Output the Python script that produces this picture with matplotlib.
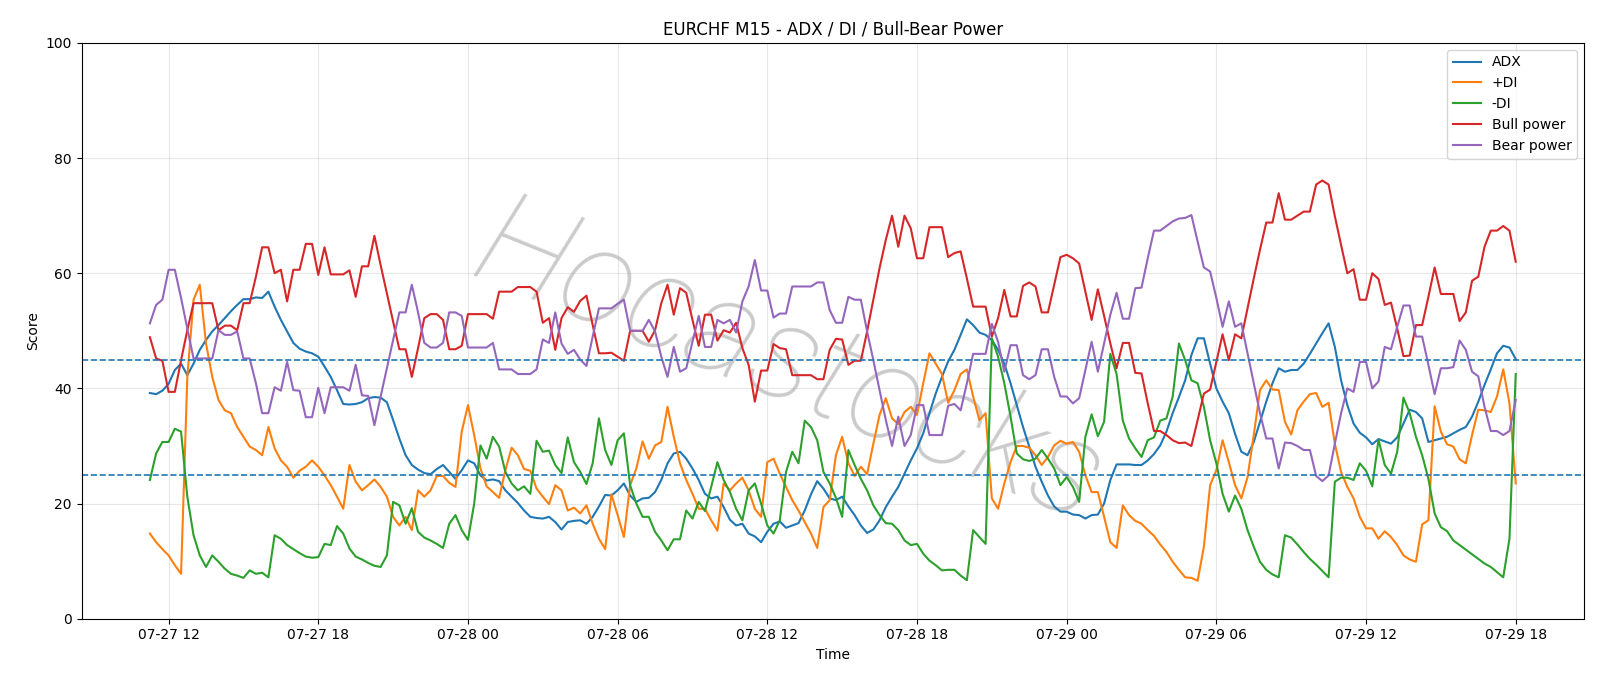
import numpy as np
import pandas as pd
import matplotlib
matplotlib.use("Agg")
import matplotlib.pyplot as plt
import matplotlib.dates as mdates

# 15-minute bars, 07-27 11:15 -> 07-29 18:00
times = pd.date_range("2025-07-27 11:15", periods=220, freq="15min")

adx = [39.2, 39.0, 39.6, 40.8, 43.2, 44.3, 42.3, 44.3, 46.7, 48.4, 49.9, 51.0, 52.2, 53.4, 54.5, 55.5, 55.5, 55.8,
       55.7, 56.8, 54.2, 51.9, 49.9, 47.9, 46.9, 46.4, 46.1, 45.5, 43.8, 42.0, 39.7, 37.3, 37.2, 37.3, 37.6, 38.3,
       38.5, 38.4, 37.6, 34.5, 31.3, 28.4, 26.7, 25.9, 25.3, 25.1, 26.0, 26.7, 25.5, 24.3, 25.8, 27.5, 27.0, 24.9, 24.0,
       24.2, 23.9, 22.3, 21.2, 20.1, 18.8, 17.7, 17.5, 17.4, 17.7, 16.8, 15.5, 16.8, 17.0, 17.1, 16.5, 17.7, 19.5, 21.5,
       21.4, 22.3, 23.5, 21.4, 20.3, 20.9, 21.0, 22.0, 24.1, 27.0, 28.7, 29.0, 27.8, 26.1, 24.1, 21.7, 20.9, 21.2,
       19.4, 17.2, 16.2, 16.5, 14.8, 14.3, 13.3, 15.1, 16.5, 16.9, 15.8, 16.2, 16.6, 18.8, 21.6, 23.9, 22.6, 20.9, 20.6,
       21.2, 19.5, 18.0, 16.2, 14.9, 15.5, 17.1, 19.4, 21.2, 22.9, 25.2, 27.5, 29.6, 32.2, 35.7, 39.1, 42.0, 44.7,
       46.7, 49.3, 52.0, 51.0, 49.7, 49.3, 48.4, 46.7, 44.3, 40.9, 37.1, 33.3, 29.9, 26.4, 23.8, 21.4, 19.5, 18.6,
       18.6, 18.1, 18.0, 17.4, 18.0, 18.1, 20.0, 24.1, 26.8, 26.8, 26.8, 26.7, 26.7, 27.5, 28.6, 30.1, 32.5, 35.7, 38.5,
       41.4, 45.8, 48.7, 48.7, 44.3, 40.0, 37.7, 35.7, 32.1, 29.0, 28.4, 30.7, 34.2, 37.7, 40.9, 43.5, 42.9, 43.2,
       43.2, 44.3, 46.0, 47.8, 49.6, 51.3, 47.2, 41.4, 37.1, 33.9, 32.3, 31.5, 30.3, 31.2, 30.8, 30.4, 31.5, 33.9, 36.3,
       35.9, 34.8, 30.7, 31.0, 31.3, 31.6, 32.2, 32.8, 33.3, 35.1, 37.7, 40.6, 43.3, 46.1, 47.4, 47.1, 45.1]

plus_di = [14.8, 13.3, 12.1, 11.0, 9.3, 7.8, 42.0, 55.4, 58.0, 47.8, 42.0, 38.0, 36.2, 35.7, 33.3, 31.6, 29.9, 29.3,
           28.4, 33.3, 29.6, 27.5, 26.4, 24.5, 25.7, 26.4, 27.5, 26.4, 24.9, 23.2, 21.2, 19.1, 26.7, 23.8, 22.3, 23.2,
           24.2, 22.9, 21.2, 17.7, 16.2, 17.7, 15.4, 22.3, 21.2, 22.3, 24.8, 24.8, 23.6, 22.9, 32.5, 37.1, 31.9, 26.1, 23.0,
           22.0, 21.0, 25.8, 29.7, 28.4, 26.0, 25.7, 22.6, 21.2, 19.9, 23.2, 22.3, 18.8, 19.3, 18.3, 19.7, 16.5, 13.9, 12.1,
           21.6, 18.0, 14.2, 23.2, 26.1, 30.8, 27.8, 30.1, 30.7, 36.8, 31.6, 27.0, 24.1, 21.7, 19.1, 19.1, 17.1, 15.3,
           23.5, 22.3, 23.5, 24.5, 22.3, 19.1, 17.7, 27.2, 27.8, 25.2, 22.9, 20.6, 18.8, 16.8, 14.8, 12.3, 19.4, 20.6, 28.4,
           31.6, 27.0, 24.8, 26.4, 25.1, 30.4, 35.4, 38.3, 34.8, 33.8, 35.9, 36.8, 35.4, 40.9, 46.1, 44.3, 42.5, 37.5,
           39.7, 42.5, 43.3, 38.6, 34.5, 35.7, 20.9, 19.1, 23.5, 27.2, 30.0, 30.0, 29.7, 28.4, 26.7, 28.1, 30.1, 30.9,
           30.4, 30.7, 29.0, 24.9, 22.0, 22.0, 17.7, 13.3, 12.3, 19.7, 18.0, 17.0, 16.5, 15.4, 14.4, 12.9, 11.6, 9.9, 8.5,
           7.2, 7.1, 6.6, 12.5, 23.2, 25.8, 31.0, 27.2, 23.2, 20.9, 24.6, 31.9, 39.7, 41.4, 39.8, 39.7, 34.2, 32.0,
           36.2, 37.7, 39.0, 39.2, 36.8, 37.5, 30.4, 25.5, 22.9, 20.9, 17.7, 15.7, 15.7, 13.9, 15.2, 14.2, 12.8, 11.0, 10.3,
           9.9, 16.4, 17.1, 36.9, 32.5, 30.3, 29.9, 27.7, 27.0, 31.9, 36.3, 36.2, 35.9, 38.6, 43.3, 37.4, 23.5]

minus_di = [24.1, 28.7, 30.7, 30.7, 33.0, 32.5, 21.2, 14.5, 11.0, 9.0, 11.0, 9.9, 8.7, 7.8, 7.5, 7.1, 8.4, 7.8,
            8.0, 7.2, 14.5, 13.9, 12.8, 12.1, 11.4, 10.8, 10.6, 10.7, 13.0, 12.8, 16.1, 14.8, 12.2, 10.8, 10.3, 9.7,
            9.2, 9.0, 11.0, 20.3, 19.7, 16.5, 19.2, 15.1, 14.1, 13.6, 13.0, 12.3, 16.5, 18.0, 15.4, 13.7, 20.0, 30.1, 27.8,
            31.6, 29.9, 25.5, 23.5, 22.3, 23.0, 21.7, 30.9, 29.0, 29.2, 26.7, 25.3, 31.5, 27.2, 25.5, 23.4, 27.0, 34.8, 29.3,
            26.7, 31.0, 32.2, 23.2, 20.0, 17.7, 17.7, 15.1, 13.6, 11.9, 13.8, 13.8, 18.8, 17.4, 20.3, 18.7, 22.9, 27.2,
            24.1, 22.0, 19.1, 17.1, 22.3, 23.5, 20.0, 16.2, 14.8, 17.1, 25.5, 29.0, 27.0, 34.4, 33.3, 31.0, 25.5, 23.5, 21.0,
            17.7, 29.3, 26.7, 24.3, 22.3, 19.7, 18.0, 16.6, 16.5, 15.4, 13.6, 12.8, 13.0, 11.3, 10.1, 9.3, 8.4, 8.5,
            8.5, 7.5, 6.7, 15.4, 14.2, 13.0, 48.7, 45.5, 40.9, 35.1, 28.7, 27.7, 27.4, 27.8, 29.3, 27.8, 26.1, 23.2,
            24.6, 22.9, 20.3, 31.6, 35.5, 31.7, 34.2, 46.0, 42.5, 34.4, 31.3, 29.6, 28.1, 31.0, 31.5, 34.4, 34.8, 38.6, 47.8,
            44.9, 41.4, 40.9, 36.8, 31.0, 27.0, 21.7, 18.6, 21.4, 19.1, 15.4, 12.5, 9.9, 8.5, 7.7, 7.2, 14.5, 14.1,
            12.9, 11.6, 10.4, 9.4, 8.3, 7.2, 23.8, 24.5, 24.5, 24.1, 27.0, 25.7, 23.0, 31.1, 26.7, 25.2, 29.0, 38.4, 35.7,
            31.6, 28.4, 24.3, 18.3, 15.9, 15.2, 13.6, 12.8, 12.0, 11.2, 10.4, 9.6, 9.0, 8.1, 7.2, 13.9, 42.5]

bull_power = [48.9, 45.2, 44.8, 39.4, 39.4, 44.9, 50.1, 54.8, 54.8, 54.8, 54.8, 50.1, 50.9, 50.9, 50.1, 54.8, 54.8, 59.4,
              64.5, 64.5, 60.0, 60.6, 55.1, 60.6, 60.6, 65.1, 65.1, 59.7, 64.5, 59.8, 59.8, 59.8, 60.5, 55.9, 61.2, 61.2,
              66.5, 61.4, 56.5, 51.6, 46.8, 46.8, 42.0, 47.0, 52.2, 52.9, 52.9, 51.9, 46.8, 46.8, 47.4, 52.9, 52.9, 52.9, 52.9,
              52.1, 56.8, 56.8, 56.8, 57.6, 57.6, 57.6, 56.8, 51.4, 52.2, 46.7, 52.2, 54.1, 53.3, 55.2, 56.1, 51.0, 46.1, 46.1,
              46.2, 45.5, 44.8, 50.0, 50.0, 50.0, 48.1, 50.1, 54.8, 58.0, 52.8, 57.4, 56.6, 51.9, 47.4, 52.8, 52.8, 48.3,
              50.1, 49.7, 51.4, 47.0, 44.1, 37.7, 43.1, 43.1, 47.7, 47.0, 46.8, 42.3, 42.3, 42.3, 42.3, 41.6, 41.6, 46.7, 48.6,
              48.5, 44.1, 44.8, 44.8, 49.9, 55.4, 60.9, 65.8, 70.0, 64.6, 70.0, 67.8, 62.6, 62.6, 68.0, 68.0, 68.0, 62.8,
              63.5, 63.8, 59.1, 54.2, 54.2, 54.2, 49.0, 52.2, 57.1, 52.5, 52.5, 57.8, 58.4, 57.7, 53.2, 53.2, 58.0, 62.8,
              63.2, 62.6, 61.7, 56.8, 51.9, 57.2, 52.6, 47.8, 43.5, 47.9, 47.9, 42.7, 42.6, 37.4, 32.6, 32.6, 31.9, 31.0, 30.5,
              30.6, 30.0, 34.5, 39.1, 39.8, 44.6, 49.4, 44.9, 49.4, 48.7, 53.9, 59.1, 64.1, 68.8, 68.8, 73.9, 69.3, 69.3,
              70.0, 70.7, 70.7, 75.4, 76.1, 75.4, 69.9, 64.9, 60.0, 60.7, 55.4, 55.4, 60.0, 59.0, 54.5, 54.9, 50.4, 45.6, 45.7,
              51.0, 51.0, 55.9, 61.0, 56.4, 56.4, 56.4, 51.7, 53.2, 58.7, 59.4, 64.6, 67.4, 67.4, 68.2, 67.4, 62.0]

bear_power = [51.3, 54.5, 55.4, 60.6, 60.6, 55.7, 50.4, 45.2, 45.2, 45.2, 45.2, 50.1, 49.3, 49.3, 49.9, 45.2, 45.2, 40.9,
              35.7, 35.7, 40.2, 39.6, 44.6, 39.7, 39.6, 35.0, 35.0, 40.1, 35.7, 40.2, 40.2, 40.2, 39.6, 44.1, 38.8, 38.7,
              33.6, 38.6, 43.5, 48.4, 53.2, 53.2, 58.0, 53.2, 47.9, 47.1, 47.1, 47.9, 53.2, 53.2, 52.6, 47.1, 47.1, 47.1, 47.1,
              47.9, 43.3, 43.3, 43.3, 42.5, 42.5, 42.5, 43.3, 48.5, 47.9, 53.2, 47.8, 46.0, 46.7, 45.0, 43.9, 49.0, 53.9, 53.9,
              53.9, 54.7, 55.4, 50.0, 50.0, 50.0, 51.9, 49.9, 45.5, 42.0, 47.2, 42.9, 43.5, 48.1, 52.6, 47.2, 47.2, 51.9,
              51.3, 51.9, 49.7, 55.1, 57.7, 62.3, 57.0, 57.0, 52.3, 53.0, 53.0, 57.7, 57.7, 57.7, 57.7, 58.4, 58.4, 53.6, 51.4,
              51.4, 55.9, 55.4, 55.4, 49.9, 44.9, 39.7, 34.5, 30.0, 35.1, 30.0, 31.9, 37.1, 37.1, 31.9, 31.9, 31.9, 37.0,
              37.3, 36.2, 40.9, 46.0, 46.0, 46.0, 51.2, 48.1, 42.9, 47.5, 47.5, 42.3, 41.6, 42.3, 46.8, 46.8, 42.0, 38.6,
              38.6, 37.4, 38.3, 43.2, 48.1, 42.9, 47.8, 52.8, 56.6, 52.1, 52.1, 57.4, 57.5, 62.6, 67.4, 67.4, 68.2, 69.0, 69.5,
              69.6, 70.1, 65.5, 61.0, 60.3, 55.7, 50.7, 55.1, 50.7, 51.3, 46.1, 40.9, 35.7, 31.3, 31.3, 26.1, 30.6, 30.5,
              30.0, 29.3, 29.3, 24.8, 23.9, 24.9, 30.4, 35.7, 40.0, 39.4, 44.6, 44.6, 40.0, 41.2, 47.2, 46.8, 50.7, 54.4, 54.4,
              49.0, 49.0, 44.1, 39.0, 43.5, 43.5, 43.7, 48.3, 46.7, 42.9, 42.1, 36.8, 32.6, 32.6, 31.9, 32.6, 38.0]

upper_level = 45
lower_level = 25

fig = plt.figure(figsize=(16, 6.86), dpi=100)
ax = fig.add_axes([0.051, 0.098, 0.939, 0.8395])

ax.plot(times, adx, label="ADX")
ax.plot(times, plus_di, label="+DI")
ax.plot(times, minus_di, label="-DI")
ax.plot(times, bull_power, label="Bull power")
ax.plot(times, bear_power, label="Bear power")
ax.axhline(upper_level, linestyle="--", linewidth=1.2)
ax.axhline(lower_level, linestyle="--", linewidth=1.2)

ax.set_ylim(0, 100)
ax.xaxis.set_major_locator(mdates.HourLocator(byhour=[0, 6, 12, 18]))
ax.xaxis.set_major_formatter(mdates.DateFormatter("%m-%d %H"))
ax.grid(True, alpha=0.3)
ax.set_title("EURCHF M15 - ADX / DI / Bull-Bear Power")
ax.set_xlabel("Time")
ax.set_ylabel("Score")
ax.legend(loc="upper right")

# faint thin watermark across the middle
ax.text(0.47, 0.44, "Hocastocks", transform=ax.transAxes, fontsize=96,
        family="Roboto", fontweight="light", style="italic",
        color="#a8a8a8", alpha=0.6, rotation=-22,
        ha="center", va="center", zorder=0)

fig.savefig("out.png", dpi=100)
